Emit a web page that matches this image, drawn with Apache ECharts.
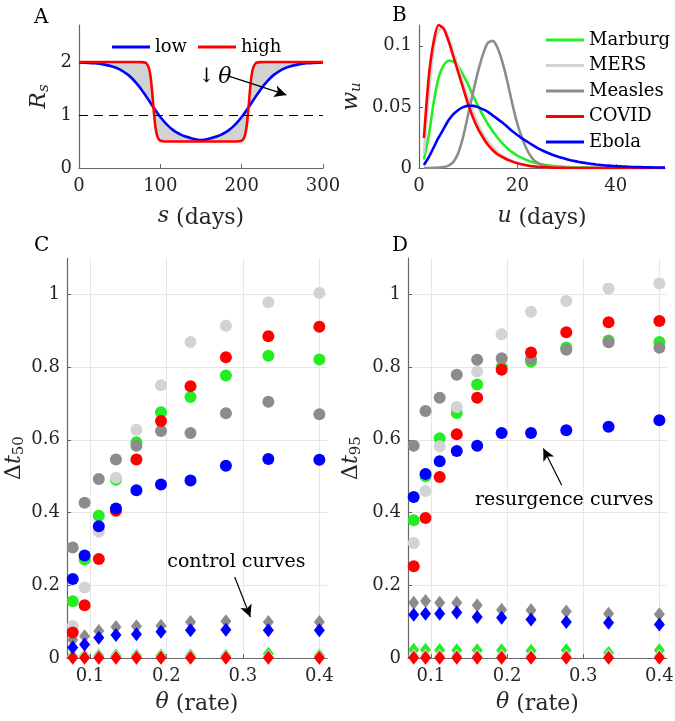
<!DOCTYPE html>
<html>
<head>
<meta charset="utf-8">
<script src="https://cdn.jsdelivr.net/npm/echarts@6/dist/echarts.min.js"></script>
<style>html,body{margin:0;padding:0;background:#fff}#c{width:675px;height:721px}</style>
</head>
<body>
<div id="c"></div>
<script>
// ---------------- Panel A data ----------------
const sDays = [0,20,30,40,50,60,65,70,75,80,83,86,88,90,92,94,96,98,100,103,106,110,115,120,125,130,140,150,160,170,175,180,185,190,194,197,200,202,204,206,208,210,212,214,217,220,225,230,235,240,250,260,270,280,300];
const Rlow = [1.993,1.977,1.957,1.923,1.863,1.763,1.695,1.612,1.517,1.410,1.343,1.273,1.227,1.181,1.135,1.090,1.046,1.004,0.963,0.906,0.853,0.791,0.725,0.672,0.630,0.598,0.554,0.530,0.554,0.598,0.630,0.672,0.725,0.791,0.853,0.906,0.963,1.004,1.046,1.090,1.135,1.181,1.227,1.273,1.343,1.410,1.517,1.612,1.695,1.763,1.863,1.923,1.957,1.977,1.993];
const Rhigh = [2.0,2.0,2.0,2.0,2.0,2.0,2.0,2.0,1.999,1.994,1.973,1.886,1.726,1.433,1.066,0.774,0.614,0.544,0.516,0.504,0.501,0.5,0.5,0.5,0.5,0.5,0.5,0.5,0.5,0.5,0.5,0.5,0.5,0.5,0.501,0.504,0.516,0.544,0.614,0.774,1.066,1.433,1.726,1.886,1.973,1.994,1.999,2.0,2.0,2.0,2.0,2.0,2.0,2.0,2.0];

// ---------------- Panel B data ----------------
const uDays = [1,2,3,4,5,6,7,8,9,10,11,12,13,14,15,16,17,18,19,20,21,22,23,24,25,26,27,28,29,30,31,32,33,34,35,36,37,38,39,40,41,42,43,44,45,46,47,48,49,50];
const wMarburg = [0.007,0.027,0.054,0.074,0.084,0.0877,0.087,0.083,0.076,0.068,0.059,0.051,0.043,0.036,0.030,0.0245,0.020,0.016,0.0128,0.0102,0.0081,0.0064,0.005,0.0039,0.003,0.0023,0.0018,0.0014,0.0011,0.0008,0.0006,0.0005,0.0004,0.0003,0.0002,0.0002,0.0001,0.0001,0.0001,0,0,0,0,0,0,0,0,0,0,0];
const wMERS = [0.012,0.060,0.097,0.113,0.115,0.107,0.095,0.082,0.069,0.057,0.046,0.036,0.028,0.022,0.017,0.013,0.0098,0.0074,0.0055,0.0041,0.003,0.0022,0.0016,0.0012,0.0009,0.0006,0.0004,0.0003,0.0002,0.0001,0,0,0,0,0,0,0,0,0,0,0,0,0,0,0,0,0,0,0,0];
const wMeasles = [0,0,0.0001,0.0003,0.0008,0.002,0.005,0.0125,0.026,0.044,0.062,0.079,0.093,0.1025,0.104,0.098,0.086,0.070,0.052,0.036,0.024,0.0145,0.008,0.0045,0.0024,0.0012,0.0006,0.0003,0.0001,0,0,0,0,0,0,0,0,0,0,0,0,0,0,0,0,0,0,0,0,0];
const wCOVID = [0.0244,0.075,0.104,0.117,0.114,0.104,0.091,0.078,0.065,0.052,0.041,0.032,0.025,0.019,0.0145,0.011,0.0088,0.0068,0.0052,0.0038,0.0028,0.002,0.0014,0.001,0.0007,0.0005,0.0003,0.0002,0.00015,0.0001,0,0,0,0,0,0,0,0,0,0,0,0,0,0,0,0,0,0,0,0];
const wEbola = [0.0025,0.009,0.017,0.025,0.032,0.039,0.044,0.0475,0.0498,0.0508,0.0508,0.0498,0.048,0.046,0.043,0.040,0.037,0.0335,0.030,0.027,0.024,0.0215,0.019,0.0165,0.0145,0.0127,0.011,0.0096,0.0083,0.0072,0.0062,0.0054,0.0046,0.004,0.0034,0.0029,0.0025,0.0021,0.0018,0.0015,0.0013,0.0011,0.0009,0.0008,0.0007,0.0006,0.0005,0.0004,0.0004,0.0003];

// ---------------- Panels C, D data ----------------
const thetas = [0.0775,0.093,0.1116,0.134,0.1608,0.1929,0.2315,0.2778,0.3333,0.4];
// C: Delta t50, resurgence (circles)
const c50Marburg = [0.156,0.271,0.391,0.490,0.593,0.676,0.718,0.777,0.831,0.821];
const c50MERS    = [0.088,0.194,0.347,0.496,0.628,0.750,0.869,0.914,0.978,1.004];
const c50Measles = [0.304,0.427,0.492,0.546,0.584,0.624,0.619,0.673,0.705,0.670];
const c50COVID   = [0.070,0.145,0.272,0.405,0.546,0.652,0.747,0.827,0.885,0.911];
const c50Ebola   = [0.217,0.282,0.362,0.411,0.461,0.477,0.488,0.529,0.547,0.545];
// C: Delta t50, control (diamonds)
const d50Marburg = [0.006,0.006,0.007,0.007,0.007,0.007,0.007,0.006,0.012,0.007];
const d50MERS    = [0.004,0.004,0.004,0.004,0.004,0.004,0.004,0.004,0.004,0.004];
const d50Measles = [0.050,0.060,0.074,0.085,0.087,0.089,0.099,0.101,0.099,0.099];
const d50COVID   = [0.001,0.001,0.001,0.001,0.001,0.001,0.001,0.001,0.001,0.001];
const d50Ebola   = [0.029,0.037,0.056,0.063,0.065,0.072,0.076,0.078,0.076,0.076];
// D: Delta t95, resurgence (circles)
const c95Marburg = [0.379,0.500,0.604,0.674,0.752,0.800,0.815,0.854,0.873,0.869];
const c95MERS    = [0.316,0.459,0.582,0.690,0.788,0.890,0.952,0.982,1.016,1.030];
const c95Measles = [0.584,0.679,0.716,0.779,0.820,0.824,0.822,0.848,0.868,0.853];
const c95COVID   = [0.252,0.385,0.498,0.615,0.716,0.793,0.840,0.896,0.923,0.927];
const c95Ebola   = [0.443,0.506,0.541,0.569,0.584,0.619,0.619,0.626,0.636,0.654];
// D: Delta t95, control (diamonds)
const d95Marburg = [0.023,0.023,0.022,0.021,0.021,0.021,0.020,0.021,0.014,0.021];
const d95MERS    = [0.006,0.006,0.006,0.006,0.006,0.006,0.006,0.006,0.006,0.006];
const d95Measles = [0.152,0.157,0.152,0.152,0.145,0.133,0.131,0.128,0.122,0.120];
const d95COVID   = [0.001,0.001,0.001,0.001,0.001,0.001,0.001,0.001,0.001,0.001];
const d95Ebola   = [0.119,0.122,0.122,0.125,0.113,0.111,0.106,0.099,0.097,0.092];

// tick labels
const sTicks = [0,100,200,300];
const RTicks = [0,1,2];
const uTicks = [0,20,40];
const wTicks = [0,0.05,0.1];
const thetaTicks = [0.1,0.2,0.3,0.4];
const dtTicks = [0,0.2,0.4,0.6,0.8,1];

const diseases = ['Marburg','MERS','Measles','COVID','Ebola'];
const colors = ['#22ee22','#d3d3d3','#8c8c8c','#ff0000','#0000ff'];
const wSeries = [wMarburg,wMERS,wMeasles,wCOVID,wEbola];
const c50 = [c50Marburg,c50MERS,c50Measles,c50COVID,c50Ebola];
const d50 = [d50Marburg,d50MERS,d50Measles,d50COVID,d50Ebola];
const c95 = [c95Marburg,c95MERS,c95Measles,c95COVID,c95Ebola];
const d95 = [d95Marburg,d95MERS,d95Measles,d95COVID,d95Ebola];

// ---------------- styling ----------------
const F = 'DejaVu Serif';
const TXT = '#262626';
const AX = '#666666';
const zip = (xs, ys) => xs.map((x, i) => [x, ys[i]]);

function rich() {
  return {
    i:   {fontFamily:F, fontStyle:'italic', fontSize:22, color:TXT, verticalAlign:'top', lineHeight:26},
    n:   {fontFamily:F, fontSize:22, color:TXT, verticalAlign:'top', lineHeight:26},
    si:  {fontFamily:F, fontStyle:'italic', fontSize:15, color:TXT, verticalAlign:'top', lineHeight:26, padding:[9,0,0,0]},
    sn:  {fontFamily:F, fontSize:15, color:TXT, verticalAlign:'top', lineHeight:26, padding:[9,0,0,0]}
  };
}
const gridSplit = (ticks) => ({show:true, customValues:ticks, lineStyle:{color:'#e6e6e6', width:1}});
function axis(dir, gi, min, max, ticks, name, gap, split, extra) {
  const a = {
    type:'value', gridIndex:gi, min, max,
    name, nameLocation:'middle', nameGap:gap,
    nameTextStyle:{fontFamily:F, fontSize:22, color:TXT, rich:rich()},
    axisLine:{show:true, onZero:false, lineStyle:{color:AX, width:1.2}},
    axisTick:{show:true, inside:true, length:4, lineStyle:{color:AX}, customValues:ticks},
    axisLabel:{fontFamily:F, fontSize:18, color:TXT, margin: dir === 'x' ? 9 : 7, customValues:ticks},
    splitLine: split ? gridSplit(ticks) : {show:false}
  };
  if (dir === 'y') a.nameRotate = 90;
  return Object.assign(a, extra || {});
}

const series = [];
// ---- Panel A ----
// grey band between the two curves, drawn through the axis scales
series.push({type:'custom', name:'_band', xAxisIndex:0, yAxisIndex:0, silent:true, z:1, data:[[0,0]],
  renderItem:(params, api) => {
    const top = sDays.map((s, i) => api.coord([s, Rhigh[i]]));
    const bot = sDays.map((s, i) => api.coord([s, Rlow[i]])).reverse();
    return {type:'polygon', shape:{points: top.concat(bot)}, style:{fill:'#d2d2d2'}};
  }});
series.push({type:'line', name:'low', xAxisIndex:0, yAxisIndex:0, symbol:'none', smooth:0.3,
  lineStyle:{color:'#0000ff', width:2.6}, itemStyle:{color:'#0000ff'}, data: zip(sDays, Rlow), z:3,
  markLine:{silent:true, symbol:'none', label:{show:false}, lineStyle:{color:'#000', type:[9,6], width:1.2}, data:[{yAxis:1}]},
  markPoint:{silent:true, symbol:'circle', symbolSize:0, data:[{coord:[167,1.72], value:'↓ θ'}],
    label:{show:true, position:'inside', formatter:'{n|↓} {i|θ}', rich:{n:{fontFamily:F,fontSize:20,color:'#000'}, i:{fontFamily:F,fontStyle:'italic',fontSize:22,color:'#000'}}}}
});
series.push({type:'line', name:'high', xAxisIndex:0, yAxisIndex:0, symbol:'none', smooth:0.3,
  lineStyle:{color:'#ff0000', width:2.6}, itemStyle:{color:'#ff0000'}, data: zip(sDays, Rhigh), z:4,
  markLine:{silent:true, symbol:['none','arrow'], symbolSize:[9,12], label:{show:false}, lineStyle:{color:'#000', type:'solid', width:1.2},
    data:[[{coord:[185,1.73]},{coord:[255,1.38]}]]}
});
// ---- Panel B ----
diseases.forEach((d, k) => {
  series.push({type:'line', name:d, xAxisIndex:1, yAxisIndex:1, symbol:'none', smooth:0.25,
    lineStyle:{color:colors[k], width:2.6}, itemStyle:{color:colors[k]}, data: zip(uDays, wSeries[k]), z:2+k});
});
// ---- Panels C, D ----
[[2, c50, d50], [3, c95, d95]].forEach(([gi, circ, diam]) => {
  diseases.forEach((d, k) => {
    series.push({type:'scatter', name:d+' resurgence '+gi, xAxisIndex:gi, yAxisIndex:gi, symbol:'circle', symbolSize:12,
      itemStyle:{color:colors[k], opacity:1}, data: zip(thetas, circ[k]), z:2+k});
  });
  diseases.forEach((d, k) => {
    series.push({type:'scatter', name:d+' control '+gi, xAxisIndex:gi, yAxisIndex:gi, symbol:'diamond', symbolSize:[11,14],
      itemStyle:{color:colors[k], opacity:1}, data: zip(thetas, diam[k]), z:2+k});
  });
});
// annotations C and D
const annText = {fontFamily:F, fontSize:19, color:'#000'};
series.push({type:'line', name:'_annC', xAxisIndex:2, yAxisIndex:2, data:[], symbol:'none',
  markPoint:{silent:true, symbol:'circle', symbolSize:0, label:{show:true, position:'inside', ...annText, formatter:'control curves'},
    data:[{coord:[0.2915,0.264]}]},
  markLine:{silent:true, symbol:['none','arrow'], symbolSize:[9,12], label:{show:false}, lineStyle:{color:'#000', type:'solid', width:1.2},
    data:[[{coord:[0.2893,0.223]},{coord:[0.3098,0.113]}]]}
});
series.push({type:'line', name:'_annD', xAxisIndex:3, yAxisIndex:3, data:[], symbol:'none',
  markPoint:{silent:true, symbol:'circle', symbolSize:0, label:{show:true, position:'inside', ...annText, formatter:'resurgence curves'},
    data:[{coord:[0.2751,0.434]}]},
  markLine:{silent:true, symbol:['none','arrow'], symbolSize:[9,12], label:{show:false}, lineStyle:{color:'#000', type:'solid', width:1.2},
    data:[[{coord:[0.2718,0.475]},{coord:[0.2477,0.576]}]]}
});

const letterStyle = {fontFamily:F, fontSize:20, fontWeight:'normal', color:'#000'};
const option = {
  animation:false,
  backgroundColor:'#fff',
  title:[
    {text:'A', left:29, top:3, textStyle:letterStyle},
    {text:'B', left:387, top:1, textStyle:letterStyle},
    {text:'C', left:29, top:231, textStyle:letterStyle},
    {text:'D', left:387, top:231, textStyle:letterStyle}
  ],
  legend:[
    {data:['low','high'], left:107, top:33, orient:'horizontal', icon:'rect', itemWidth:38, itemHeight:3, itemGap:11,
      textStyle:{fontFamily:F, fontSize:18, color:'#000'}, selectedMode:false},
    {data:diseases, left:541, top:26, orient:'vertical', icon:'rect', itemWidth:38, itemHeight:3, itemGap:7.5,
      textStyle:{fontFamily:F, fontSize:18, color:'#000', lineHeight:18}, selectedMode:false}
  ],
  grid:[
    {left:79, top:25, width:244, height:143, containLabel:false, outerBoundsMode:'none'},
    {left:419, top:25, width:246, height:143, containLabel:false, outerBoundsMode:'none'},
    {left:67, top:258, width:260, height:400, containLabel:false, outerBoundsMode:'none'},
    {left:408, top:258, width:259, height:400, containLabel:false, outerBoundsMode:'none'}
  ],
  xAxis:[
    axis('x', 0, 0, 300, sTicks, '{i|s} (days)', 37, false),
    axis('x', 1, 0, 50, uTicks, '{i|u} (days)', 37, false),
    axis('x', 2, 0.07, 0.41, thetaTicks, '{i|θ} (rate)', 33, true),
    axis('x', 3, 0.07, 0.41, thetaTicks, '{i|θ} (rate)', 33, true)
  ],
  yAxis:[
    axis('y', 0, 0, 2.7, RTicks, '{i|R}{si|s}', 25, false),
    axis('y', 1, 0, 0.117, wTicks, '{i|w}{si|u}', 53, false),
    axis('y', 2, 0, 1.1, dtTicks, '{n|Δ}{i|t}{sn|50}', 38, true),
    axis('y', 3, 0, 1.1, dtTicks, '{n|Δ}{i|t}{sn|95}', 42, true)
  ],
  series
};
const chart = echarts.init(document.getElementById('c'), null, {renderer:'canvas'});
chart.setOption(option);
</script>
</body>
</html>
